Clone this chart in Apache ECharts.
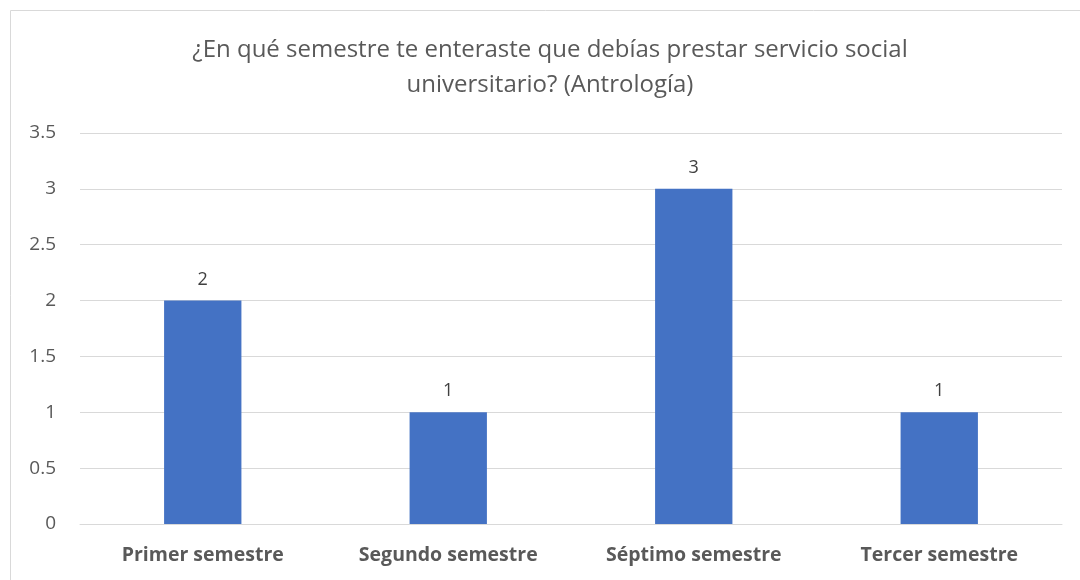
<!DOCTYPE html>
<html>
<head>
<meta charset="utf-8">
<script src="https://cdn.jsdelivr.net/npm/echarts@6/dist/echarts.min.js"></script>
<style>
  html, body { margin: 0; padding: 0; background: #fff; }
  #chart { width: 1080px; height: 580px; }
</style>
</head>
<body>
<div id="chart"></div>
<script>
// datos del gráfico
const categorias = ['Primer semestre', 'Segundo semestre', 'Séptimo semestre', 'Tercer semestre'];
const valores = [2, 1, 3, 1];
const tituloLineas = ['¿En qué semestre te enteraste que debías prestar servicio social', 'universitario? (Antrología)'];

const fuente = '"Open Sans", "Noto Sans", sans-serif';
const chart = echarts.init(document.getElementById('chart'));

// cada línea del título centrada por separado
const titulo = tituloLineas.map((t, i) => ({
    type: 'text',
    style: {
        text: t,
        x: 550,
        y: 50 + i * 35,
        fill: '#595959',
        font: '24px ' + fuente,
        align: 'center',
        verticalAlign: 'middle'
    }
}));

chart.setOption({
    animation: false,
    textStyle: { fontFamily: fuente },
    graphic: [{ // borde del área del gráfico
        type: 'rect',
        shape: { x: 10.5, y: 10.5, width: 1090, height: 600 },
        style: { fill: null, stroke: '#d9d9d9', lineWidth: 1 }
    }].concat(titulo),
    grid: { left: 80, right: 18, top: 133, bottom: 56, containLabel: false },
    xAxis: {
        type: 'category',
        data: categorias,
        axisLine: { show: true, lineStyle: { color: '#d9d9d9', width: 1 } },
        axisTick: { show: false },
        axisLabel: { color: '#595959', fontSize: 19.5, fontWeight: 'bold', margin: 21, fontFamily: fuente }
    },
    yAxis: {
        type: 'value',
        min: 0,
        max: 3.5,
        interval: 0.5,
        axisLine: { show: false },
        axisTick: { show: false },
        axisLabel: { color: '#595959', fontSize: 19, margin: 24, fontFamily: fuente },
        splitLine: { lineStyle: { color: '#d9d9d9', width: 1 } }
    },
    series: [{
        type: 'bar',
        data: valores,
        barWidth: '31.5%',
        itemStyle: { color: '#4472C4' },
        label: { show: true, position: 'top', distance: 12, color: '#404040', fontSize: 18, fontFamily: fuente }
    }]
});
</script>
</body>
</html>
